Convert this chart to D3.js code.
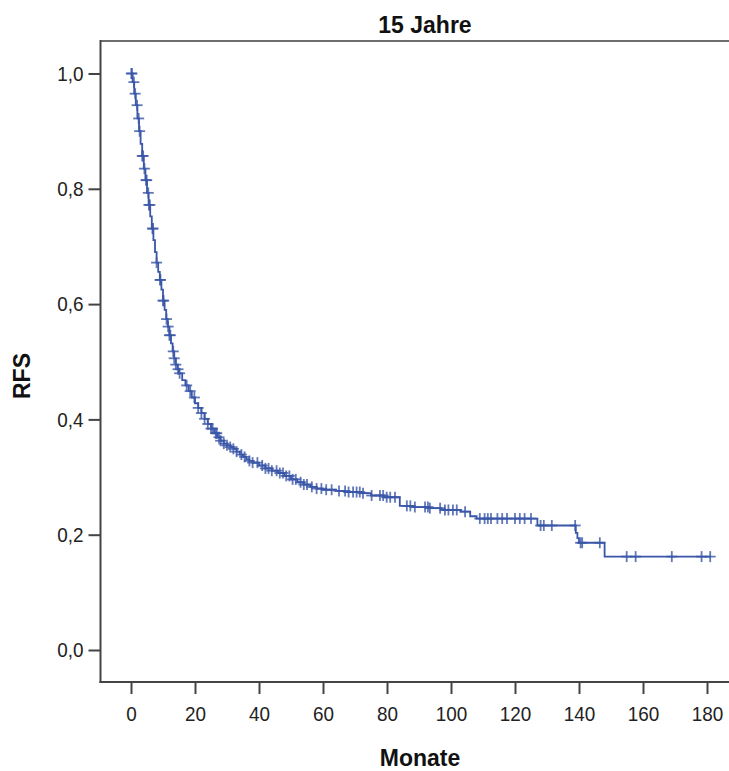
<!DOCTYPE html>
<html>
<head>
<meta charset="utf-8">
<script src="https://cdn.jsdelivr.net/npm/d3@7"></script>
<style>
  html, body { margin: 0; padding: 0; background: #fff; }
  svg { display: block; font-family: "Liberation Sans", Arial, sans-serif; }
</style>
</head>
<body>
<svg id="chart" width="729" height="771"></svg>
<script>
// Kaplan-Meier estimate: event times (months) and survival after each event
const eventTimes = [
  0.5, 1, 1.5, 2, 2.5, 3, 3.5, 4, 4.5, 5, 5.5, 6, 6.5, 7, 7.5, 8, 8.5, 9, 9.5, 10,
  10.5, 11, 11.5, 12, 12.5, 13, 13.5, 14, 14.5, 15, 16, 17, 18, 19, 20, 21, 22, 23,
  24, 25, 26, 27, 28, 29, 30, 31, 32, 33, 34, 35, 36, 37, 38, 40, 42, 44, 46, 48,
  50, 52, 54, 56, 58, 60, 64, 67, 72, 75, 79, 84, 88, 93, 97, 103, 106, 108, 127,
  139, 139.5, 140, 148
];
const eventSurv = [
  0.985, 0.965, 0.945, 0.922, 0.900, 0.878, 0.857, 0.835, 0.815, 0.793, 0.772, 0.752,
  0.731, 0.711, 0.690, 0.672, 0.656, 0.642, 0.625, 0.606, 0.590, 0.574, 0.561, 0.546,
  0.532, 0.518, 0.506, 0.495, 0.487, 0.480, 0.468, 0.459, 0.449, 0.438, 0.428, 0.420,
  0.411, 0.401, 0.392, 0.384, 0.376, 0.369, 0.363, 0.358, 0.355, 0.352, 0.349, 0.344,
  0.339, 0.335, 0.331, 0.328, 0.325, 0.320, 0.315, 0.311, 0.307, 0.302, 0.296, 0.291,
  0.287, 0.283, 0.280, 0.278, 0.276, 0.274, 0.272, 0.268, 0.265, 0.250, 0.248, 0.246,
  0.243, 0.240, 0.232, 0.228, 0.216, 0.203, 0.194, 0.186, 0.162
];
// Censored observations (months)
const censorTimes = [
  0.1, 0.3, 0.9, 1.3, 1.9, 2.4, 2.7, 3.5, 3.8, 4.2, 4.7, 4.9, 5.4, 5.6, 5.9, 6.7, 6.9,
  8.0, 9.1, 9.2, 10.0, 10.2, 11.1, 11.6, 12.0, 12.3, 13.2, 13.5, 14.0, 14.7, 15.2,
  17.4, 18.5, 19.8, 21.0, 22.0, 23.0, 24.0, 25.0, 25.5, 26.5, 26.8, 27.5, 28.0, 29.0,
  30.0, 31.0, 32.0, 33.0, 34.5, 35.5, 37.0, 38.0, 39.5, 41.0, 42.0, 43.0, 44.0, 45.5,
  46.5, 47.5, 48.5, 49.5, 50.5, 51.5, 53.0, 54.0, 55.0, 56.5, 58.0, 59.5, 61.0, 62.7,
  65.0, 66.9, 68.0, 69.4, 70.5, 71.5, 72.5, 75.2, 77.8, 78.8, 79.9, 81.0, 82.5, 86.2,
  87.3, 88.7, 91.9, 92.8, 93.4, 96.6, 98.1, 99.2, 100.6, 101.8, 104.4, 109.0, 110.5,
  111.5, 112.5, 114.5, 116.0, 117.5, 120.0, 121.5, 123.0, 125.0, 128.0, 129.0, 131.5,
  138.8, 140.5, 141.0, 146.5, 154.9, 157.7, 169.0, 178.3, 181.0
];
const xTicks = [0, 20, 40, 60, 80, 100, 120, 140, 160, 180];
const yTicks = [0, 0.2, 0.4, 0.6, 0.8, 1.0];
const titleText = "15 Jahre";
const xTitle = "Monate";
const yTitle = "RFS";

const svg = d3.select("#chart");
const frame = { left: 100.5, right: 729, top: 41, bottom: 682 };

const x = d3.scaleLinear().domain([0, 180]).range([131, 707]);
const y = d3.scaleLinear().domain([0, 1]).range([650, 73.5]);

const deLocale = d3.formatLocale({ decimal: ",", thousands: ".", grouping: [3], currency: ["", " €"] });
const fmt = deLocale.format(".1f");

// survival value in effect at time t
function survAt(t) {
  let s = 1;
  for (let i = 0; i < eventTimes.length; i++) {
    if (eventTimes[i] <= t) s = eventSurv[i]; else break;
  }
  return s;
}

// frame: top border, left and bottom axis lines
svg.append("line")
  .attr("x1", frame.left).attr("x2", frame.right)
  .attr("y1", frame.top).attr("y2", frame.top)
  .attr("stroke", "#6e6e6e").attr("stroke-width", 2);
svg.append("line")
  .attr("x1", frame.left).attr("x2", frame.left)
  .attr("y1", frame.top - 1).attr("y2", frame.bottom + 1)
  .attr("stroke", "#444").attr("stroke-width", 2);
svg.append("line")
  .attr("x1", frame.left - 1).attr("x2", frame.right)
  .attr("y1", frame.bottom).attr("y2", frame.bottom)
  .attr("stroke", "#444").attr("stroke-width", 2);

// tick labels are set slightly condensed
const squeeze = 0.9;

// x axis
const xAxis = svg.append("g")
  .attr("transform", `translate(0,${frame.bottom})`)
  .call(d3.axisBottom(x).tickValues(xTicks).tickSize(12).tickPadding(12).tickFormat(d3.format("d")));
xAxis.select(".domain").remove();
xAxis.selectAll(".tick line").attr("stroke", "#444").attr("stroke-width", 2);
xAxis.selectAll(".tick text")
  .attr("fill", "#222")
  .attr("transform", `scale(${squeeze},1)`)
  .style("font-size", "21px").style("font-family", "'Liberation Sans', Arial, sans-serif");

// y axis
const yAxis = svg.append("g")
  .attr("transform", `translate(${frame.left},0)`)
  .call(d3.axisLeft(y).tickValues(yTicks).tickSize(12).tickPadding(5).tickFormat(fmt));
yAxis.select(".domain").remove();
yAxis.selectAll(".tick line").attr("stroke", "#444").attr("stroke-width", 2);
yAxis.selectAll(".tick text")
  .attr("fill", "#222")
  .attr("x", -17 / squeeze)
  .attr("transform", `scale(${squeeze},1)`)
  .style("font-size", "21px").style("font-family", "'Liberation Sans', Arial, sans-serif");

// titles
svg.append("text")
  .attr("x", 425).attr("y", 33)
  .attr("text-anchor", "middle")
  .style("font-size", "23px").style("font-weight", "bold").attr("fill", "#111")
  .text(titleText);
svg.append("text")
  .attr("x", 420).attr("y", 766)
  .attr("text-anchor", "middle")
  .style("font-size", "23px").style("font-weight", "bold").attr("fill", "#111")
  .text(xTitle);
svg.append("text")
  .attr("transform", "translate(30,376) rotate(-90)")
  .attr("text-anchor", "middle")
  .style("font-size", "23px").style("font-weight", "bold").attr("fill", "#111")
  .text(yTitle);

// survival step curve
const lastT = d3.max(censorTimes);
const pts = [[0, 1]].concat(eventTimes.map((t, i) => [t, eventSurv[i]]));
pts.push([lastT, eventSurv[eventSurv.length - 1]]);
const stepLine = d3.line()
  .x(d => x(d[0])).y(d => y(d[1]))
  .curve(d3.curveStepAfter);
const blue = "#3a56a8";
svg.append("path")
  .datum(pts)
  .attr("d", stepLine)
  .attr("fill", "none")
  .attr("stroke", blue)
  .attr("stroke-width", 1.8);

// censoring marks
const half = 5.5;
const marks = svg.append("g").attr("stroke", blue).attr("stroke-width", 1.8).attr("stroke-opacity", 0.8);
censorTimes.forEach(t => {
  const cx = x(t), cy = y(survAt(t));
  marks.append("line").attr("x1", cx - half).attr("x2", cx + half).attr("y1", cy).attr("y2", cy);
  marks.append("line").attr("x1", cx).attr("x2", cx).attr("y1", cy - half).attr("y2", cy + half);
});
</script>
</body>
</html>
